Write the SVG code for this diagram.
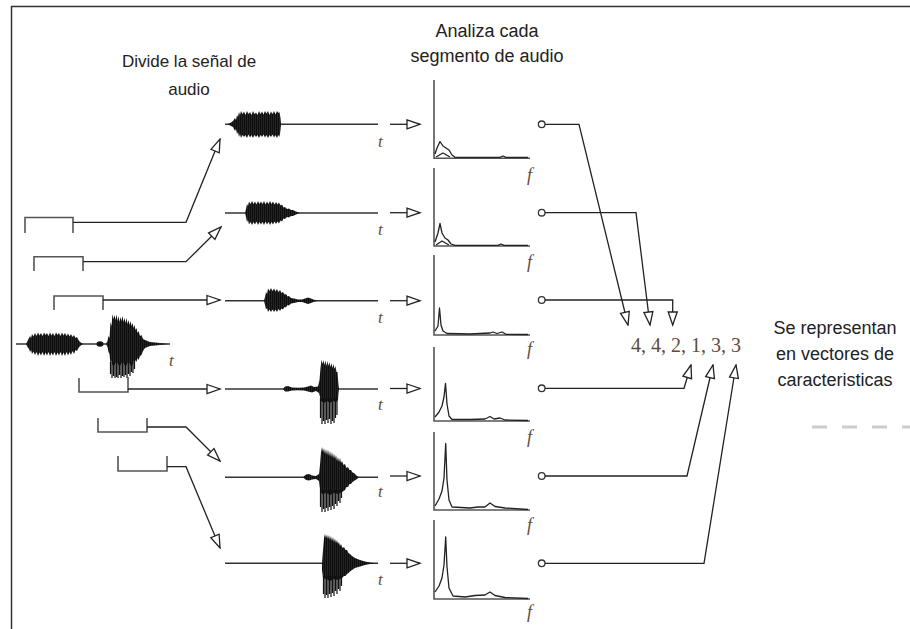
<svg xmlns="http://www.w3.org/2000/svg" width="910" height="629" viewBox="0 0 910 629">
  <defs>
    <style>
      .frame { stroke: #333; stroke-width: 1.5; fill: none; }
      .wire { stroke: #222; stroke-width: 1.3; fill: none; }
      .bracket { stroke: #555; stroke-width: 1.6; fill: none; }
      .axis { stroke: #555; stroke-width: 1.6; fill: none; }
      .spec { stroke: #222; stroke-width: 1.3; fill: none; stroke-linejoin: round; }
      .burst { fill: url(#hatch); }
      .stri { stroke: #111; stroke-width: 1.2; fill: none; }
      .base { stroke: #333; stroke-width: 1.4; fill: none; }
      .lbl { font-family: "Liberation Sans", Arial, sans-serif; font-size: 18px; fill: #222; text-anchor: middle; }
      .lbl.small { font-size: 17px; }
      .var { font-family: "Liberation Serif", "Times New Roman", serif; font-style: italic; fill: #5e4c3c; }
      .vec { font-family: "Liberation Serif", "Times New Roman", serif; font-size: 20px; fill: #5e4c3c; }
      .port { fill: #fff; stroke: #333; stroke-width: 1.3; }
      .dash { stroke: #ccc; stroke-width: 3; stroke-dasharray: 15 15; }
    </style>
    <!-- dense vertical texture for the waveform bursts -->
    <pattern id="hatch" width="2" height="4" patternUnits="userSpaceOnUse">
      <rect width="2" height="4" fill="#0d0d0d"/>
      <rect x="1.5" width="0.5" height="4" fill="#3a3a3a"/>
    </pattern>
    <marker id="open" markerUnits="userSpaceOnUse" markerWidth="16" markerHeight="12" viewBox="0 0 16 12" refX="14.5" refY="6" orient="auto">
      <path d="M1.5,1.5 L14.5,6 L1.5,10.5 Z" fill="#fff" stroke="#222" stroke-width="1.3"/>
    </marker>
  </defs>

  <rect width="910" height="629" fill="#fff"/>

  <!-- outer frame (top and left edges) -->
  <path class="frame" d="M11.5,629 V6.5 H910"/>

  <!-- column headings -->
  <g id="heading-divide">
    <text class="lbl small" x="189" y="67">Divide la señal de</text>
    <text class="lbl small" x="189" y="95">audio</text>
  </g>
  <g id="heading-analyze">
    <text class="lbl" x="487" y="37">Analiza cada</text>
    <text class="lbl" x="487" y="62">segmento de audio</text>
  </g>
  <g id="heading-vectors">
    <text class="lbl" x="835" y="334">Se representan</text>
    <text class="lbl" x="835" y="360">en vectores de</text>
    <text class="lbl" x="835" y="386">caracteristicas</text>
  </g>
  <path class="dash" d="M812,427 H910"/>

  <!-- full input signal -->
  <g id="signal">
    <path class="base" d="M16,344 H170"/>
    <polygon class="burst" points="26,344 27.5,341 29,338 30,336 31,338 32,334 33.5,336.5 35,333 36.5,336 38,332.5 39.5,335.5 41,333 42.5,336 44,332.5 45.5,335 47,333 48.5,336 50,332.5 51.5,335.5 53,333 54.5,336 56,332.5 57.5,335 59,333 60.5,336 62,332.5 63.5,335.5 65,333 66.5,336 68,333.5 69.5,336.5 71,334 72.5,337 74,335 75.5,338 77,337 78.5,340 80,342 83,344 80,346 78.5,348 77,351 75.5,350 74,354 72.5,351 71,355 69.5,352 68,355.5 66.5,352 65,356 63.5,352.5 62,356 60.5,352 59,355.5 57.5,352.5 56,356 54.5,352 53,355.5 51.5,352.5 50,356 48.5,352 47,355.5 45.5,352.5 44,356 42.5,352 41,355.5 39.5,352.5 38,356 36.5,352 35,355 33.5,351.5 32,354 31,350 30,352 29,349 27.5,347"/>
    <ellipse cx="100" cy="344" rx="3.5" ry="2.8" fill="#111"/>
    <polygon class="burst" points="106,344 107.5,341 108.5,336 109.5,338 110.5,322 111.5,326 112.5,314 113.5,319 114.5,315 115.5,320 116.5,314.5 117.5,321 118.5,316 119.5,322 120.5,317 121.5,321 122.5,316 123.5,322 124.5,318 125.5,323 126.5,318 127.5,324 128.5,320 129.5,325 130.5,321 131.5,326 132.5,323 133.5,328 134.5,325 135.5,330 136.5,328 137.5,333 138.5,331 140,336 141.5,335 143,339 145,340 150,342 160,343 168,344 160,345 150,346 145,348 143,351 141.5,355 140,356 138.5,360 137.5,358 136.5,362 135.5,360 134.5,365 133.5,361 132.5,366 131.5,362 130.5,366 129.5,362 128.5,366 127.5,362 126.5,366 125.5,362 124.5,366 123.5,362 122.5,366 121.5,362 120.5,366 119.5,362 118.5,366 117.5,362 116.5,366 115.5,362 114.5,366 113.5,362 112.5,366 111.5,361 110.5,364 109.5,354 108.5,352 107.5,347"/>
    <path class="stri" d="M110.5,362V374 M112,362V378 M113.5,362V376 M115,362V378 M116.5,362V377 M118,362V378 M119.5,362V375 M121,362V378 M122.5,362V376 M124,362V377 M125.5,362V375 M127,362V378 M128.5,362V374 M130,362V376 M131.5,362V372 M133,362V373 M134.5,362V369"/>
    <text class="var" x="169" y="366" font-size="17">t</text>
  </g>

  <!-- window brackets -->
  <g id="windows">
    <path class="bracket" d="M25,233 V217.5 H73 V233"/>
    <path class="bracket" d="M34,271 V256.7 H83 V271"/>
    <path class="bracket" d="M54,310 V296 H103 V310"/>
    <path class="bracket" d="M79,378 V392 H128 V377"/>
    <path class="bracket" d="M98,418 V432 H147 V418"/>
    <path class="bracket" d="M118,456 V471 H167 V456"/>
  </g>

  <!-- windowed segments -->
  <g id="segment-1">
    <path class="base" d="M225,124.3 H378"/>
    <polygon class="burst" points="228,124 231,122.5 233,121 235,118 236,120 237,115 238,117 239,112 240,115 241,111 242.5,114 244,111.5 245.5,115 247,111 248.5,114 250,112 251.5,115 253,111 254.5,114 256,112.5 257.5,115 259,111 260.5,114 262,111.5 263.5,114.5 265,111 266.5,113.5 268,111 269.5,115 271,111.5 272.5,114 274,111 275.5,114.5 277,111 278.5,113 279.5,112 280.5,118 281,124 280.5,130 279.5,137 278.5,135 277,138 275.5,135 274,137.5 272.5,134.5 271,137 269.5,135 268,138 266.5,135 265,137.5 263.5,134.5 262,137 260.5,135 259,138 257.5,135 256,137 254.5,135 253,138 251.5,135 250,137.5 248.5,134.5 247,138 245.5,135 244,137 242.5,135 241,138 240,134 239,137 238,132 237,134 236,129 235,131 233,127 231,126 228,124.5"/>
    <text class="var" x="378" y="147" font-size="17">t</text>
  </g>
  <g id="segment-2">
    <path class="base" d="M225,213 H378"/>
    <polygon class="burst" points="245,213 246,209 247,204 248,206 249,201.5 250.5,204 252,201 253.5,204 255,201.5 256.5,204.5 258,201 259.5,204 261,201.5 262.5,204 264,201 265.5,204.5 267,201.5 268.5,204 270,201 271.5,204 273,201.5 274.5,204.5 276,202 277.5,204.5 279,202.5 280.5,205.5 282,204.5 283.5,207.5 285,207 287,209 289,208.5 291,210 293,210 296,211.5 300,213 296,214.5 293,216 291,216 289,217.5 287,217 285,219 283.5,218.5 282,221.5 280.5,220.5 279,223.5 277.5,221.5 276,224 274.5,221.5 273,224.5 271.5,222 270,225 268.5,222 267,224.5 265.5,221.5 264,225 262.5,222 261,224.5 259.5,222 258,225 256.5,221.5 255,224.5 253.5,222 252,225 250.5,222 249,224.5 248,220 247,222 246,217"/>
    <text class="var" x="378" y="235" font-size="17">t</text>
  </g>
  <g id="segment-3">
    <path class="base" d="M225,300.7 H378"/>
    <polygon class="burst" points="264,300.7 265,297 266,292 267,294 268,288.5 269.5,291 271,288 272.5,291 274,288.5 275.5,291.5 277,289 278.5,292 280,290 281.5,293 283,292 284.5,294.5 286,294 287.5,296.5 289,296 291,298 294,298.5 298,299.5 302,299.5 305,298.5 308,297.5 311,298.5 314,299.7 318,300.7 314,301.7 311,303 308,304 305,303 302,302 298,302 294,303 291,303.5 289,305.5 287.5,305 286,307.5 284.5,307 283,309.5 281.5,308.5 280,311 278.5,309 277,312 275.5,309.5 274,312 272.5,309.5 271,312 269.5,309.5 268,312 267,308 266,309.5 265,305"/>
    <text class="var" x="378" y="323" font-size="17">t</text>
  </g>
  <g id="segment-4">
    <path class="base" d="M225,389 H378"/>
    <polygon class="burst" points="283,389 285,386.5 288,386 292,387.5 298,387.8 304,387.5 308,386.5 311,385.5 314,387 318,386.5 319.5,380 320.5,368 321.5,359.5 322.5,364 323.5,360 324.5,365 325.5,360.5 326.5,366 327.5,361 328.5,366 329.5,362 330.5,367 331.5,363 332.5,368 333.5,364 334.5,369 335.5,366 336.5,372 337.5,372 338.5,385 339,389 338.5,393 338,400 336,402 333,401 330,403 327,401 324,403 321,401 319,393 316,391 312,392.5 308,391.5 304,390.5 298,390.3 292,390.5 288,391.5 285,391.5"/>
    <path class="stri" d="M320.5,398V418 M322,398V424 M323.5,398V421 M325,398V424 M326.5,398V420 M328,398V423 M329.5,398V419 M331,398V424 M332.5,398V421 M334,398V423 M335.5,398V418 M337,398V415"/>
    <text class="var" x="378" y="410" font-size="17">t</text>
  </g>
  <g id="segment-5">
    <path class="base" d="M225,477.3 H378"/>
    <polygon class="burst" points="303,477.3 306,474.5 309,474 312,475.5 316,476 319,474 320,465 321,452 322,447 323,452 324,448 325,454 326,449 327,455 328,449.5 329,456 330,451 331,457 332,452 333,458 334,453.5 335,459 336,455 337,461 338,457 339,462 340,458 341,463 342,461 343.5,465 345,464 346.5,468 348,467 349.5,470 351,470 352.5,472.5 354,473 357,476 359,477.3 357,479 354,481 352.5,482 351,484 349.5,484 348,487 346.5,487 345,490 342,492 338,494 334,493 330,495 326,493 322,494 320,490 319,481 316,479 312,479.5 309,480.5 306,480"/>
    <path class="stri" d="M320.5,490V507 M322,490V512 M323.5,490V509 M325,490V512 M326.5,490V508 M328,490V511 M329.5,490V507 M331,490V510 M332.5,490V506 M334,490V509 M335.5,490V504 M337,490V506 M338.5,490V501 M340,490V503 M341.5,490V498"/>
    <text class="var" x="378" y="497" font-size="17">t</text>
  </g>
  <g id="segment-6">
    <path class="base" d="M225,563.3 H378"/>
    <polygon class="burst" points="322,563.3 323,550 324,538 325,534 326,538 327,534.5 328,539 329,535 330,540 331,536 332,541 333,537 334,542 335,538.5 336,543 337,540 338,544 339,542 340,546 341,544 342.5,548 344,547 345.5,550 347,550 348.5,553 350,554 352,556 355,558 360,560 365,561.5 370,562.5 376,563.3 370,564 365,565 360,566.5 355,568 352,570 350,571.5 348.5,573 347,574 345.5,576 344,576 342,578 338,580 334,579 330,581 326,579 323,578 322,570"/>
    <path class="stri" d="M323.5,576V594 M325,576V598 M326.5,576V595 M328,576V598 M329.5,576V594 M331,576V597 M332.5,576V593 M334,576V596 M335.5,576V591 M337,576V594 M338.5,576V589 M340,576V591 M341.5,576V586"/>
    <text class="var" x="378" y="585" font-size="17">t</text>
  </g>

  <!-- spectra -->
  <g id="spectrum-1">
    <path class="axis" d="M434,80 V158.3 H530"/>
    <path class="spec" d="M435,154 L437,148 L440,141.5 L443,146 L446,148 L449,150 L452,155 L455,157.3 L500,157.3 L503,156 L506,157.3 L528,157.3"/>
    <path class="spec" d="M436,157 L443,153 L450,157"/>
    <text class="var" x="527" y="181" font-size="18">f</text>
    <circle class="port" cx="541.7" cy="124.3" r="3.3"/>
  </g>
  <g id="spectrum-2">
    <path class="axis" d="M434,168 V246 H530"/>
    <path class="spec" d="M435,242 L438,233 L440,223.5 L442,233 L445,238 L448,240 L451,244 L455,245.3 L498,245.3 L501,244 L504,245.3 L528,245.3"/>
    <path class="spec" d="M436,245 L442,241 L449,245"/>
    <text class="var" x="527" y="268" font-size="18">f</text>
    <circle class="port" cx="541.7" cy="212.7" r="3.3"/>
  </g>
  <g id="spectrum-3">
    <path class="axis" d="M434,255 V335 H530"/>
    <path class="spec" d="M435,331 L438,326 L439.5,308 L441,325 L443,331 L447,333.5 L470,334 L490,333 L493,332 L497,333.5 L502,332 L506,334.3 L528,334.5"/>
    <text class="var" x="527" y="355" font-size="18">f</text>
    <circle class="port" cx="541.7" cy="300" r="3.3"/>
  </g>
  <g id="spectrum-4">
    <path class="axis" d="M434,347 V421 H530"/>
    <path class="spec" d="M435,417 L439,412 L442,406 L444,397 L445.5,383.3 L447,404 L449,416 L452,419.5 L470,419.5 L485,419 L490,416.5 L494,419 L500,418 L505,420 L528,420.5"/>
    <text class="var" x="527" y="443" font-size="18">f</text>
    <circle class="port" cx="541.7" cy="388.3" r="3.3"/>
  </g>
  <g id="spectrum-5">
    <path class="axis" d="M434,432 V510 H530"/>
    <path class="spec" d="M435,506 L439,499 L442,491 L444,478 L445.7,443.5 L447,480 L449,500 L452,507 L470,508 L478,507 L485,507 L490,503 L495,506.5 L505,508 L528,509.5"/>
    <text class="var" x="527" y="531" font-size="18">f</text>
    <circle class="port" cx="541.7" cy="476" r="3.3"/>
  </g>
  <g id="spectrum-6">
    <path class="axis" d="M434,520 V599 H530"/>
    <path class="spec" d="M435,592 L439,586 L442,578 L444,565 L445.7,537 L447,567 L449,588 L453,596 L465,597 L475,595.5 L485,595 L490,592 L495,595.5 L505,597.5 L528,598.5"/>
    <text class="var" x="527" y="618" font-size="18">f</text>
    <circle class="port" cx="541.7" cy="563.3" r="3.3"/>
  </g>

  <!-- feature vector -->
  <g id="vector">
    <text class="vec" x="631" y="352">4, 4, 2, 1, 3, 3</text>
  </g>

  <!-- connectors -->
  <g id="connectors">
    <path class="wire" marker-end="url(#open)" d="M73,222.3 H186 L220,139"/>
    <path class="wire" marker-end="url(#open)" d="M83,261.7 H186 L221,227"/>
    <path class="wire" marker-end="url(#open)" d="M103,300 H220"/>
    <path class="wire" marker-end="url(#open)" d="M128,389 H220"/>
    <path class="wire" marker-end="url(#open)" d="M147,427 H186 L220,461"/>
    <path class="wire" marker-end="url(#open)" d="M167,466.7 H186 L220,548"/>

    <path class="wire" marker-end="url(#open)" d="M390,124.3 H420"/>
    <path class="wire" marker-end="url(#open)" d="M390,212.7 H420"/>
    <path class="wire" marker-end="url(#open)" d="M390,300.7 H420"/>
    <path class="wire" marker-end="url(#open)" d="M390,388.5 H420"/>
    <path class="wire" marker-end="url(#open)" d="M390,476 H420"/>
    <path class="wire" marker-end="url(#open)" d="M390,563.3 H420"/>

    <path class="wire" marker-end="url(#open)" d="M545,124.3 H579 L628,325"/>
    <path class="wire" marker-end="url(#open)" d="M545,212.7 H636 L650,325"/>
    <path class="wire" marker-end="url(#open)" d="M545,300 H672.7 V325"/>
    <path class="wire" marker-end="url(#open)" d="M545,388.3 H684 L691,365"/>
    <path class="wire" marker-end="url(#open)" d="M545,476 H687 L713,365"/>
    <path class="wire" marker-end="url(#open)" d="M545,563.3 H704 L736,365"/>
  </g>
</svg>
